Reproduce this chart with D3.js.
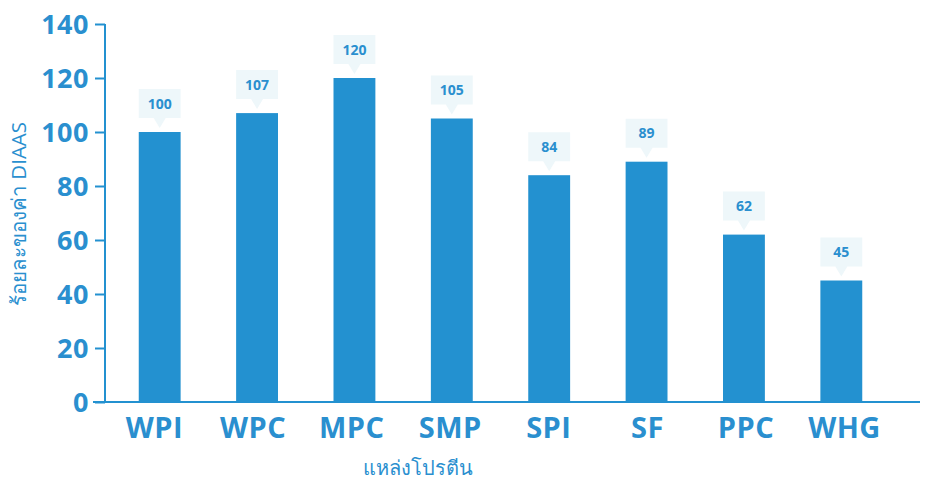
<!DOCTYPE html>
<html>
<head>
<meta charset="utf-8">
<script src="https://cdn.jsdelivr.net/npm/d3@7"></script>
<style>
  html, body { margin: 0; padding: 0; background: #fff; }
  svg { display: block; }
</style>
</head>
<body>
<svg id="chart" width="925" height="482"></svg>
<script>
// Protein sources and their DIAAS percentage
const categories = ["WPI", "WPC", "MPC", "SMP", "SPI", "SF", "PPC", "WHG"];
const diaas = [100, 107, 120, 105, 84, 89, 62, 45];
const yTicks = [0, 20, 40, 60, 80, 100, 120, 140];
const yTitle = "ร้อยละของค่า DIAAS";
const xTitle = "แหล่งโปรตีน";

const blue = "#2391d0";
const textBlue = "#2a8fcf";
const calloutFill = "#eef7fa";
const fontFam = "'Open Sans', 'Noto Sans', sans-serif";

const svg = d3.select("#chart");
const axisX = 105, baseY = 402, topY = 24;

const x = d3.scaleBand()
  .domain(categories)
  .range([111, 890])
  .paddingInner(0.57)
  .paddingOuter(0.285);

// category labels sit on a slightly wider spread than the bars
const xLabel = d3.scalePoint().domain(categories).range([154, 844]);

const y = d3.scaleLinear().domain([0, 140]).range([baseY, topY]);

// bars
svg.append("g").selectAll("rect")
  .data(categories)
  .join("rect")
  .attr("x", d => x(d))
  .attr("width", x.bandwidth())
  .attr("y", (d, i) => y(diaas[i]))
  .attr("height", (d, i) => baseY - y(diaas[i]))
  .attr("fill", blue);

// value callouts
const calloutH = 29, gap = 14, tri = 10;
const callouts = svg.append("g").selectAll("g")
  .data(categories)
  .join("g")
  .attr("transform", (d, i) => `translate(${x(d)},${y(diaas[i]) - gap - calloutH})`);

callouts.append("path")
  .attr("d", () => {
    const w = x.bandwidth(), c = w / 2;
    return `M0,0H${w}V${calloutH}H${c + tri / 2 + 1}L${c},${calloutH + tri}L${c - tri / 2 - 1},${calloutH}H0Z`;
  })
  .attr("fill", calloutFill);

callouts.append("text")
  .attr("x", x.bandwidth() / 2)
  .attr("y", calloutH / 2 + 5)
  .attr("text-anchor", "middle")
  .attr("font-family", fontFam)
  .attr("font-weight", 700)
  .attr("font-size", 14)
  .attr("fill", textBlue)
  .text((d, i) => diaas[i]);

// y axis
const yAxis = d3.axisLeft(y).tickValues(yTicks).tickSize(10).tickPadding(6);
const gy = svg.append("g").attr("transform", `translate(${axisX},0)`).call(yAxis);
gy.select(".domain").attr("stroke", blue).attr("stroke-width", 2)
  .attr("d", `M0,${topY}V${baseY}`);
gy.selectAll(".tick line").attr("stroke", blue).attr("stroke-width", 2);
gy.selectAll(".tick text")
  .attr("fill", textBlue)
  .attr("font-family", fontFam)
  .attr("font-weight", 700)
  .attr("font-size", 27)
  .attr("letter-spacing", 0.5)
  .attr("dy", "0.36em");

// x axis
const xAxis = d3.axisBottom(xLabel).tickSize(0).tickPadding(15);
const gx = svg.append("g").attr("transform", `translate(0,${baseY})`).call(xAxis);
gx.select(".domain").attr("stroke", blue).attr("stroke-width", 2)
  .attr("d", "M93,0H920");
gx.selectAll(".tick text")
  .attr("fill", textBlue)
  .attr("font-family", fontFam)
  .attr("font-weight", 700)
  .attr("font-size", 29)
  .attr("letter-spacing", 0.5);

// axis titles
svg.append("text")
  .attr("transform", "translate(26,214) rotate(-90)")
  .attr("text-anchor", "middle")
  .attr("font-family", fontFam)
  .attr("font-size", 20.5)
  .attr("fill", textBlue)
  .text(yTitle);

svg.append("text")
  .attr("x", 418)
  .attr("y", 475)
  .attr("text-anchor", "middle")
  .attr("font-family", fontFam)
  .attr("font-size", 20)
  .attr("fill", textBlue)
  .text(xTitle);
</script>
</body>
</html>
